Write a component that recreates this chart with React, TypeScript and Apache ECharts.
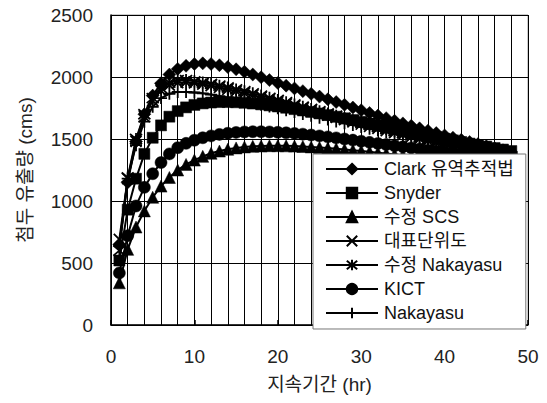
import React, { useEffect, useRef } from "react";
import * as echarts from "echarts";

const hours = Array.from({ length: 48 }, (_, i) => i + 1);

const clark = [650, 1150, 1480, 1700, 1850, 1950, 2020, 2065, 2090, 2105, 2110, 2105, 2095, 2080, 2062, 2042, 2020, 1998, 1975, 1952, 1930, 1908, 1886, 1864, 1842, 1820, 1798, 1776, 1754, 1732, 1710, 1689, 1668, 1647, 1626, 1606, 1586, 1567, 1548, 1529, 1511, 1493, 1476, 1459, 1442, 1426, 1410, 1395];
const snyder = [520, 930, 1180, 1380, 1510, 1610, 1680, 1725, 1755, 1775, 1787, 1794, 1798, 1798, 1796, 1792, 1786, 1779, 1771, 1762, 1752, 1741, 1730, 1718, 1706, 1693, 1680, 1667, 1653, 1639, 1625, 1611, 1597, 1583, 1569, 1555, 1541, 1528, 1515, 1502, 1489, 1476, 1463, 1451, 1439, 1427, 1415, 1403];
const scs = [340, 610, 790, 920, 1030, 1120, 1190, 1250, 1295, 1330, 1360, 1385, 1403, 1417, 1428, 1436, 1441, 1444, 1446, 1446, 1445, 1443, 1440, 1436, 1432, 1427, 1422, 1416, 1410, 1404, 1397, 1390, 1383, 1376, 1369, 1362, 1355, 1348, 1341, 1334, 1327, 1320, 1313, 1306, 1299, 1292, 1285, 1278];
const representative = [690, 1180, 1480, 1680, 1810, 1890, 1935, 1955, 1958, 1952, 1942, 1930, 1916, 1901, 1886, 1870, 1853, 1836, 1818, 1800, 1782, 1764, 1746, 1728, 1710, 1692, 1674, 1656, 1638, 1620, 1602, 1585, 1568, 1551, 1534, 1517, 1501, 1485, 1469, 1453, 1438, 1423, 1408, 1394, 1380, 1366, 1352, 1339];
const modNakayasu = [600, 1190, 1500, 1700, 1830, 1910, 1955, 1975, 1975, 1965, 1955, 1945, 1930, 1915, 1900, 1885, 1868, 1850, 1832, 1814, 1796, 1778, 1760, 1742, 1724, 1706, 1688, 1670, 1652, 1634, 1616, 1598, 1580, 1563, 1546, 1529, 1512, 1496, 1480, 1464, 1448, 1433, 1418, 1403, 1389, 1375, 1361, 1348];
const kict = [420, 720, 960, 1110, 1220, 1310, 1380, 1430, 1465, 1490, 1510, 1525, 1537, 1546, 1553, 1557, 1559, 1559, 1557, 1554, 1550, 1545, 1539, 1532, 1525, 1517, 1509, 1500, 1491, 1482, 1473, 1464, 1455, 1446, 1437, 1428, 1419, 1410, 1401, 1392, 1384, 1376, 1368, 1360, 1352, 1344, 1336, 1328];
const nakayasu = [640, 1180, 1450, 1640, 1760, 1830, 1865, 1880, 1880, 1875, 1868, 1858, 1846, 1833, 1820, 1806, 1792, 1777, 1762, 1747, 1732, 1717, 1702, 1687, 1672, 1657, 1642, 1627, 1612, 1597, 1582, 1568, 1554, 1540, 1526, 1512, 1499, 1486, 1473, 1460, 1447, 1434, 1421, 1409, 1397, 1385, 1373, 1361];

const seriesNames = ["Clark 유역추적법", "Snyder", "수정 SCS", "대표단위도", "수정 Nakayasu", "KICT", "Nakayasu"];
const xTicks = [0, 10, 20, 30, 40, 50];
const yTicks = [0, 500, 1000, 1500, 2000, 2500];

const FONT = "'Liberation Sans', Arial, 'Noto Sans CJK KR', sans-serif";

const symbols = [
  { symbol: "diamond", size: 13 },
  { symbol: "rect", size: 11 },
  { symbol: "triangle", size: 12 },
  { symbol: "path://M0,0L10,10M0,10L10,0", size: 11 },
  { symbol: "path://M0,0L10,10M0,10L10,0M5,-1L5,11", size: 12 },
  { symbol: "circle", size: 12 },
  { symbol: "path://M5,0L5,10M0,5L10,5", size: 12 },
];

export default function App() {
  const ref = useRef<HTMLDivElement>(null);
  useEffect(() => {
    if (!ref.current) return;
    const chart = echarts.init(ref.current, undefined, { renderer: "svg" });
    const dataSets = [clark, snyder, scs, representative, modNakayasu, kict, nakayasu];
    chart.setOption({
      animation: false,
      backgroundColor: "#fff",
      textStyle: { fontFamily: FONT },
      grid: {
        left: 111,
        top: 15,
        width: 417,
        height: 310,
        show: true,
        borderColor: "#999",
        borderWidth: 1,
        containLabel: false,
      },
      xAxis: {
        type: "value",
        min: xTicks[0],
        max: xTicks[xTicks.length - 1],
        interval: 10,
        name: "지속기간 (hr)",
        nameLocation: "middle",
        nameGap: 50,
        nameTextStyle: { fontSize: 19, color: "#222", fontFamily: FONT },
        axisLine: { show: true, lineStyle: { color: "#000", width: 1.5 } },
        axisTick: { show: true, inside: true, length: 5, lineStyle: { color: "#000", width: 1.5 } },
        axisLabel: { fontSize: 19, color: "#222", margin: 22, fontFamily: FONT },
        splitLine: { show: true, lineStyle: { color: "#000", width: 1 } },
        minorTick: { show: false, splitNumber: 5 },
        minorSplitLine: { show: true, lineStyle: { color: "#000", width: 1 } },
      },
      yAxis: {
        type: "value",
        min: yTicks[0],
        max: yTicks[yTicks.length - 1],
        interval: 500,
        name: "첨두 유출량 (cms)",
        nameLocation: "middle",
        nameGap: 76,
        nameTextStyle: { fontSize: 19, color: "#222", fontFamily: FONT },
        axisLine: { show: true, lineStyle: { color: "#000", width: 1.5 } },
        axisTick: { show: false },
        axisLabel: {
          fontSize: 19,
          color: "#222",
          margin: 18,
          fontFamily: FONT,
          formatter: (v: number) => String(v),
        },
        splitLine: { show: true, lineStyle: { color: "#000", width: 1 } },
      },
      legend: {
        orient: "vertical",
        left: 313,
        top: 154,
        data: seriesNames,
        itemWidth: 52,
        itemHeight: 13,
        itemGap: 6,
        padding: [6, 12, 7, 12],
        backgroundColor: "#fff",
        borderColor: "#777",
        borderWidth: 1,
        textStyle: { fontSize: 18, color: "#111", fontFamily: FONT, padding: [0, 0, 0, 1] },
        z: 10,
      },
      series: seriesNames.map((name, i) => ({
        name,
        type: "line",
        data: hours.map((h, j) => [h, dataSets[i][j]]),
        symbol: symbols[i].symbol,
        symbolSize: symbols[i].size,
        showAllSymbol: true,
        lineStyle: { color: "#000", width: 2 },
        itemStyle: { color: "#000", borderColor: "#000", borderWidth: i >= 3 && i !== 5 ? 1.8 : 0.5 },
        clip: true,
      })),
    });
    return () => chart.dispose();
  }, []);
  return (
    <div
      ref={ref}
      style={{ position: "fixed", left: 0, top: 0, width: 547, height: 403 }}
    />
  );
}
